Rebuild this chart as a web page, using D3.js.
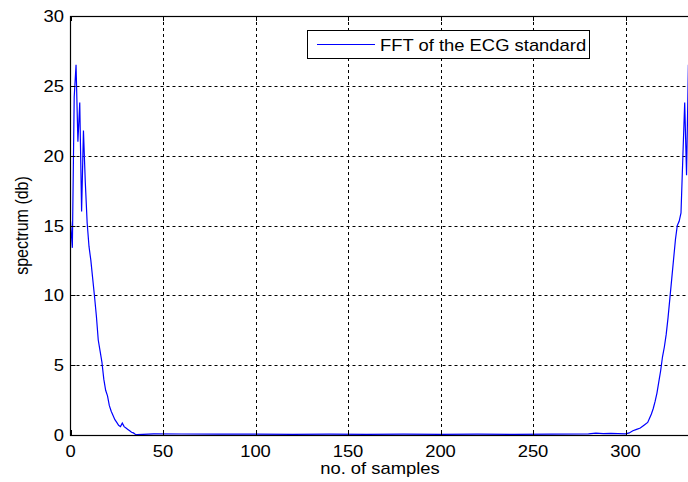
<!DOCTYPE html>
<html>
<head>
<meta charset="utf-8">
<script src="https://cdn.jsdelivr.net/npm/d3@7"></script>
<style>
  html, body { margin: 0; padding: 0; background: #fff; overflow: hidden; }
  svg { display: block; }
  text { font-family: "Liberation Sans", Arial, sans-serif; fill: #000; }
</style>
</head>
<body>
<svg id="chart" width="688" height="482"></svg>
<script>
// ---- data ----
const samples = [0,1,2,3,4,5,6,7,8,9,10,11,12,13,14,15,16,17,18,19,20,21,22,23,24,25,26,27,28,29,30,31,32,33,34,35,36,
  45,60,80,100,120,140,160,180,200,220,240,260,280,284,288,292,296,300,302,304,306,308,310,312,313,314,315,316,317,318,
  319,320,321,322,323,324,325,326,327,328,329,330,331,332,333,334,335,336];
const spectrum = [15.3,13.4,24.2,26.5,21.0,23.8,16.0,21.8,18.1,15.2,13.5,12.5,11.2,9.9,8.5,6.8,6.0,5.2,4.0,3.2,2.8,2.1,1.7,1.4,1.1,0.9,0.7,0.6,0.85,0.6,0.5,0.4,0.3,0.2,0.15,0.05,0.02,
  0.08,0.07,0.06,0.06,0.05,0.06,0.05,0.06,0.05,0.06,0.05,0.06,0.08,0.14,0.1,0.12,0.1,0.08,0.15,0.3,0.4,0.5,0.7,0.9,1.2,1.5,1.9,2.4,3.0,3.8,
  4.6,5.6,6.3,7.2,8.4,9.8,11.2,12.6,14.0,15.0,15.3,15.9,19.9,23.8,18.6,26.5,21.0,24.2];
const xTicks = [0,50,100,150,200,250,300];
const yTicks = [0,5,10,15,20,25,30];
const legendLabel = "FFT of the ECG standard";
const xLabel = "no. of samples";
const yLabel = "spectrum (db)";

// ---- layout ----
const svg = d3.select("#chart");
const L = 70.5, T = 16, B = 435;
const x = d3.scaleLinear().domain([0, 337]).range([L, L + 337 * 1.85]);
const y = d3.scaleLinear().domain([0, 30]).range([B, T]);
const R = x.range()[1];
const SX = 1.15, FS = 16;

// grid
const grid = svg.append("g").attr("stroke", "#000").attr("stroke-width", 1).attr("stroke-dasharray", "3,3");
grid.selectAll("line.v").data(xTicks.filter(d => d > 0)).enter().append("line")
  .attr("x1", d => Math.round(x(d)) + 0.5).attr("x2", d => Math.round(x(d)) + 0.5)
  .attr("y1", T).attr("y2", B);
grid.selectAll("line.h").data(yTicks.filter(d => d > 0 && d < 30)).enter().append("line")
  .attr("x1", L).attr("x2", R)
  .attr("y1", d => Math.round(y(d)) + 0.5).attr("y2", d => Math.round(y(d)) + 0.5);

// clip
svg.append("clipPath").attr("id", "clip").append("rect")
  .attr("x", L).attr("y", T).attr("width", R - L).attr("height", B - T);

// data line
const line = d3.line().x((d, i) => x(samples[i])).y(d => y(d));
svg.append("path").datum(spectrum)
  .attr("clip-path", "url(#clip)")
  .attr("fill", "none").attr("stroke", "#0000ff").attr("stroke-width", 1.2)
  .attr("stroke-linejoin", "miter")
  .attr("d", line);

// axes box
svg.append("rect").attr("x", L).attr("y", T + 0.5).attr("width", R - L).attr("height", B - T)
  .attr("fill", "none").attr("stroke", "#000").attr("stroke-width", 1.2);

// ticks (inside), bottom/top/left
const tk = svg.append("g").attr("stroke", "#000").attr("stroke-width", 1);
xTicks.forEach(d => {
  const px = Math.round(x(d)) + 0.5;
  tk.append("line").attr("x1", px).attr("x2", px).attr("y1", B).attr("y2", B - 5);
  tk.append("line").attr("x1", px).attr("x2", px).attr("y1", T).attr("y2", T + 5);
});
yTicks.forEach(d => {
  const py = Math.round(y(d)) + 0.5;
  tk.append("line").attr("x1", L).attr("x2", L + 5).attr("y1", py).attr("y2", py);
});

// tick labels
svg.append("g").selectAll("text").data(xTicks).enter().append("text")
  .attr("transform", d => `translate(${x(d)},456.5) scale(${SX},1)`)
  .attr("text-anchor", "middle").attr("font-size", FS)
  .text(d => d);
svg.append("g").selectAll("text").data(yTicks).enter().append("text")
  .attr("transform", d => `translate(64,${y(d) + 6}) scale(${SX},1)`)
  .attr("text-anchor", "end").attr("font-size", FS)
  .text(d => d);

// axis labels
svg.append("text")
  .attr("transform", `translate(380,474) scale(${SX},1)`)
  .attr("text-anchor", "middle").attr("font-size", FS)
  .text(xLabel);
svg.append("text")
  .attr("transform", `translate(28,225.5) scale(${SX},1) rotate(-90)`)
  .attr("text-anchor", "middle").attr("font-size", FS)
  .text(yLabel);

// legend
const lg = svg.append("g");
lg.append("rect").attr("x", 307.5).attr("y", 30.5).attr("width", 282).attr("height", 28)
  .attr("fill", "#fff").attr("stroke", "#000").attr("stroke-width", 1);
lg.append("line").attr("x1", 317).attr("x2", 375).attr("y1", 44.5).attr("y2", 44.5)
  .attr("stroke", "#0000ff").attr("stroke-width", 1.2);
lg.append("text")
  .attr("transform", `translate(380,50.5) scale(${SX},1)`)
  .attr("font-size", FS)
  .text(legendLabel);
</script>
</body>
</html>
